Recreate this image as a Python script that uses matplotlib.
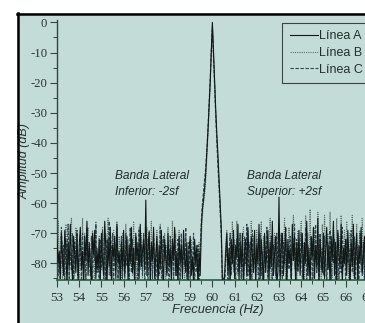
import numpy as np
import matplotlib
matplotlib.use("Agg")
import matplotlib.pyplot as plt
from matplotlib.patches import Rectangle
from matplotlib.lines import Line2D
from matplotlib.ticker import MultipleLocator

# ---------------- data, 0.05 Hz spacing ----------------
freq = np.round(np.arange(53.0, 67.525, 0.05), 2)

linea_a = [
    -72, -80, -76, -85, -70, -78, -84, -69, -75, -88, -73, -81, -67, -79, -86, -71, -77, -83, -70, -87,
    -74, -68, -82, -76, -88, -71, -79, -66, -84, -73, -80, -87, -70, -77, -69, -85, -75, -82, -72, -86,
    -70, -79, -84, -66, -75, -88, -72, -81, -68, -86, -74, -78, -71, -85, -67, -80, -76, -87, -73, -82,
    -69, -84, -77, -71, -86, -74, -80, -68, -83, -75, -88, -70, -79, -73, -85, -67, -81, -76, -72, -82,
    -59, -84, -75, -70, -87, -73, -79, -68, -85, -77, -71, -88, -74, -82, -69, -80, -86, -72, -78, -84,
    -70, -81, -75, -86, -72, -79, -68, -84, -76, -88, -71, -80, -74, -85, -69, -78, -83, -73, -87, -75,
    -71, -84, -78, -86, -72, -80, -74, -88, -76, -84, -68, -62, -59, -55, -50, -43, -36, -28, -20, -10,
    0, -10, -20, -29, -37, -44, -52, -60, -68, -86, -88, -84, -76, -70, -83, -75, -87, -72, -80, -69,
    -85, -74, -78, -67, -86, -73, -81, -70, -88, -76, -72, -84, -68, -79, -87, -71, -77, -83, -69, -86,
    -74, -80, -67, -85, -72, -78, -88, -70, -83, -76, -69, -86, -73, -81, -66, -84, -77, -71, -87, -83,
    -58, -86, -74, -70, -84, -77, -68, -88, -72, -80, -75, -85, -67, -79, -71, -87, -73, -82, -69, -84,
    -76, -70, -86, -73, -80, -66, -84, -75, -88, -71, -78, -68, -85, -74, -81, -65, -87, -72, -79, -83,
    -70, -85, -76, -68, -82, -74, -88, -71, -79, -66, -84, -73, -86, -69, -77, -81, -67, -87, -75, -80,
    -72, -84, -69, -78, -88, -73, -81, -67, -85, -76, -70, -86, -74, -80, -68, -83, -77, -71, -87, -75,
    -69, -82, -76, -86, -71, -79, -84, -70, -88, -74, -80,
]

linea_b = [
    -78, -66, -83, -72, -69, -86, -75, -80, -67, -82, -74, -87, -70, -65, -81, -77, -84, -68, -73, -79,
    -86, -71, -77, -65, -83, -70, -88, -74, -68, -81, -76, -85, -69, -72, -87, -66, -79, -83, -71, -75,
    -82, -68, -74, -87, -70, -79, -65, -84, -72, -77, -86, -69, -81, -73, -66, -85, -71, -78, -88, -70,
    -76, -83, -67, -80, -72, -86, -69, -75, -84, -66, -78, -71, -87, -74, -68, -82, -70, -85, -73, -79,
    -74, -68, -83, -71, -79, -66, -86, -73, -77, -84, -69, -81, -75, -67, -88, -72, -80, -70, -85, -76,
    -68, -82, -73, -79, -66, -87, -75, -70, -84, -77, -69, -85, -72, -80, -74, -88, -71, -83, -76, -78,
    -84, -72, -79, -86, -74, -81, -77, -88, -73, -80, -72, -64, -60, -57, -53, -45, -38, -29, -21, -11,
    -1, -11, -21, -30, -38, -46, -54, -62, -70, -84, -86, -82, -74, -69, -80, -85, -71, -78, -66, -83,
    -72, -79, -66, -84, -75, -70, -87, -73, -68, -81, -77, -85, -69, -74, -82, -66, -88, -71, -76, -80,
    -69, -84, -73, -78, -66, -86, -71, -80, -75, -68, -83, -77, -65, -87, -72, -79, -70, -85, -74, -81,
    -67, -76, -84, -70, -79, -65, -86, -73, -81, -68, -77, -85, -71, -64, -82, -75, -88, -69, -78, -72,
    -66, -80, -73, -87, -64, -77, -70, -84, -62, -79, -72, -86, -68, -75, -83, -63, -78, -71, -85, -67,
    -79, -64, -74, -86, -70, -81, -63, -77, -85, -68, -73, -82, -65, -88, -71, -78, -64, -84, -76, -69,
    -81, -66, -75, -87, -70, -78, -64, -84, -72, -80, -67, -86, -74, -69, -83, -65, -77, -85, -71, -79,
    -68, -83, -74, -66, -85, -72, -79, -67, -86, -73, -70,
]

linea_c = [
    -70, -84, -77, -88, -68, -81, -74, -86, -72, -79, -67, -85, -76, -82, -70, -87, -73, -80, -69, -84,
    -78, -73, -86, -70, -82, -75, -88, -68, -80, -76, -84, -71, -87, -74, -79, -67, -83, -77, -86, -72,
    -81, -69, -85, -75, -88, -72, -79, -66, -84, -76, -70, -87, -73, -82, -68, -86, -77, -80, -71, -85,
    -74, -86, -70, -81, -77, -88, -68, -83, -72, -79, -85, -71, -76, -87, -69, -80, -74, -84, -70, -86,
    -78, -72, -87, -69, -82, -75, -85, -70, -80, -88, -73, -77, -84, -68, -81, -86, -71, -79, -74, -83,
    -76, -88, -71, -82, -74, -86, -69, -80, -84, -72, -78, -87, -70, -83, -75, -81, -68, -85, -77, -73,
    -86, -75, -82, -70, -87, -78, -83, -74, -88, -76, -66, -60, -56, -52, -48, -42, -35, -27, -19, -9,
    -2, -12, -22, -31, -40, -48, -55, -63, -71, -87, -85, -88, -80, -73, -86, -77, -70, -84, -74, -81,
    -79, -86, -72, -83, -76, -70, -85, -74, -88, -71, -80, -67, -84, -77, -73, -87, -69, -82, -75, -86,
    -72, -80, -86, -70, -84, -76, -88, -73, -79, -68, -85, -75, -82, -71, -87, -74, -78, -84, -70, -81,
    -75, -84, -70, -87, -73, -80, -68, -85, -77, -82, -71, -88, -74, -79, -67, -86, -72, -83, -76, -80,
    -70, -85, -77, -81, -68, -87, -74, -79, -84, -71, -86, -73, -80, -67, -83, -76, -88, -70, -82, -75,
    -84, -71, -79, -87, -73, -82, -69, -86, -75, -80, -72, -88, -76, -70, -85, -78, -83, -68, -81, -74,
    -86, -72, -80, -75, -88, -69, -83, -77, -71, -85, -74, -81, -87, -70, -79, -84, -73, -86, -68, -82,
    -77, -84, -71, -86, -74, -80, -88, -72, -83, -76, -79,
]

series_labels = ["Línea A", "Línea B", "Línea C"]
x_ticks = list(range(53, 68))
y_ticks = [0, -10, -20, -30, -40, -50, -60, -70, -80]
annot_lower = "Banda Lateral\nInferior: -2sf"
annot_upper = "Banda Lateral\nSuperior: +2sf"
annot_lower_pos = (55.62, -49.0)
annot_upper_pos = (61.55, -49.0)

# ---------------- figure ----------------
W, H = 365, 323
fig = plt.figure(figsize=(W / 100, H / 100), dpi=100, facecolor="white")

bg = "#c4dcd8"
fig.add_artist(Rectangle((17 / W, 0), 1, 1 - 13 / H, transform=fig.transFigure,
                         facecolor=bg, edgecolor="none", zorder=0))
fig.add_artist(Line2D([17 / W, 1.0], [1 - 13.5 / H, 1 - 13.5 / H], transform=fig.transFigure,
                      color="black", lw=1.8, zorder=1))
fig.add_artist(Line2D([17.5 / W, 17.5 / W], [0, 1 - 12.7 / H], transform=fig.transFigure,
                      color="black", lw=1.8, zorder=1))

ax_left, ax_top, ax_bottom = 57, 20, 280
px_per_hz = 22.2
xmin, xmax = 53, 67.5
ax_w_px = (xmax - xmin) * px_per_hz
ax = fig.add_axes([ax_left / W, (H - ax_bottom) / H, ax_w_px / W, (ax_bottom - ax_top) / H])
ax.set_facecolor("none")


def draw(vals, **kw):
    m = min(len(freq), len(vals))
    ax.plot(freq[:m], vals[:m], **kw)


draw(linea_c, color="#2a4756", lw=0.8, ls=(0, (3, 1.5)), label=series_labels[2], zorder=3)
draw(linea_b, color="#5c716b", lw=0.8, ls=(0, (1, 1)), label=series_labels[1], zorder=2)
draw(linea_a, color="#111715", lw=0.8, ls="-", label=series_labels[0], zorder=4)

ax.set_xlim(xmin, xmax)
ax.set_ylim(-85.5, 0.8)

ax.spines["top"].set_visible(False)
ax.spines["right"].set_visible(False)
ax.spines["left"].set_color("#34453e")
ax.spines["bottom"].set_color("#2d6a45")
ax.spines["left"].set_linewidth(1.0)
ax.spines["bottom"].set_linewidth(1.3)

ax.set_xticks(x_ticks)
ax.set_xticklabels([str(t) for t in x_ticks])
ax.set_yticks(y_ticks)
ax.set_yticklabels([str(t) for t in y_ticks])
ax.xaxis.set_minor_locator(MultipleLocator(0.5))
ax.yaxis.set_minor_locator(MultipleLocator(5))
ax.tick_params(axis="both", which="major", direction="out", length=5, width=0.8,
               color="#34453e", labelcolor="#2a3833")
ax.tick_params(axis="x", which="major", labelsize=9.5, pad=3.5)
ax.tick_params(axis="y", which="major", labelsize=9.2, pad=2)
ax.tick_params(axis="both", which="minor", direction="out", length=3, width=0.7, color="#34453e")
for lab in ax.get_xticklabels() + ax.get_yticklabels():
    lab.set_fontfamily("Liberation Serif")

ax.set_xlabel("Frecuencia (Hz)", fontfamily="Liberation Sans", style="italic",
              fontsize=9.3, color="#25322d")
ax.xaxis.set_label_coords((217.5 - ax_left) / ax_w_px, -(310 - ax_bottom) / (ax_bottom - ax_top))
ax.xaxis.label.set_va("center")
ax.set_ylabel("Amplitud (dB)", fontfamily="Liberation Sans", style="italic",
              fontsize=9, color="#25322d")
ax.yaxis.set_label_coords(-(ax_left - 24.5) / ax_w_px, (ax_bottom - 161) / (ax_bottom - ax_top))
ax.yaxis.label.set_va("center")

txt_kw = dict(fontfamily="Liberation Sans", style="italic", fontsize=8.6, color="#1f2d28",
              va="top", ha="left", linespacing=1.45)
ax.text(*annot_lower_pos, annot_lower, **txt_kw)
ax.text(*annot_upper_pos, annot_upper, **txt_kw)

handles, labels = ax.get_legend_handles_labels()
order = [2, 1, 0]
leg = ax.legend([handles[i] for i in order], [labels[i] for i in order],
                loc="upper left", bbox_to_anchor=(282 / W, 1 - 22.7 / H),
                bbox_transform=fig.transFigure, frameon=True, fancybox=False,
                edgecolor="#3a4540", facecolor=bg, framealpha=1.0,
                prop={"family": "Liberation Sans", "size": 9},
                handlelength=2.3, handletextpad=0.05, borderpad=0.6,
                labelspacing=0.38, borderaxespad=0)
leg.get_frame().set_linewidth(0.8)
for t in leg.get_texts():
    t.set_color("#23302b")

fig.savefig("out.png", dpi=100, facecolor="white")
